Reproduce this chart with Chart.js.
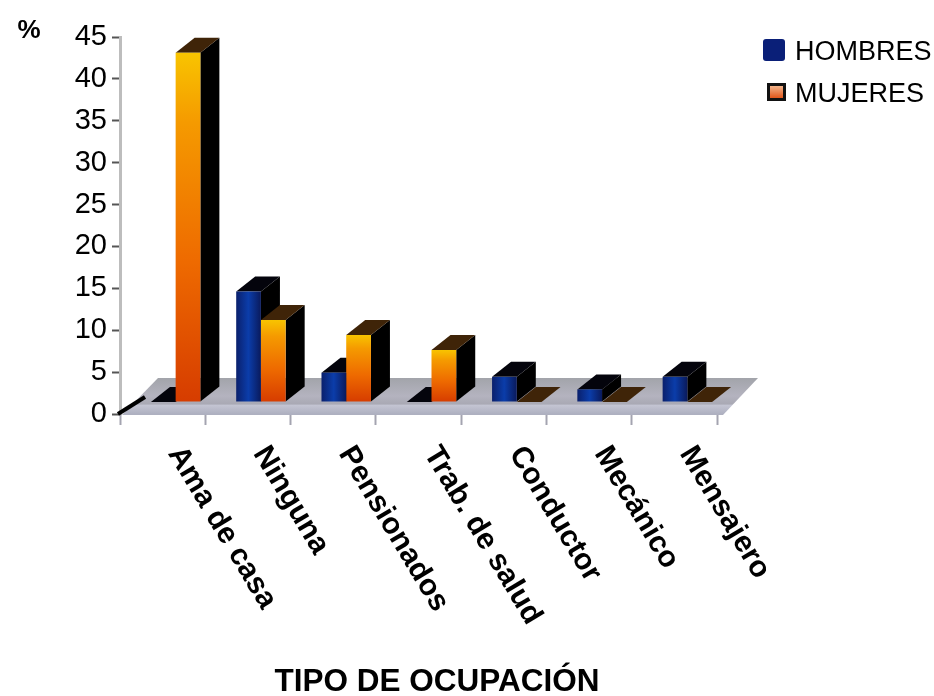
<!DOCTYPE html>
<html>
<head>
<meta charset="utf-8">
<title>Tipo de ocupación</title>
<script src="https://cdn.jsdelivr.net/npm/chart.js@4"></script>
<style>
  html, body { margin: 0; padding: 0; background: #fff; }
  #wrap { position: relative; width: 934px; height: 696px; overflow: hidden; }
  #legend { position: absolute; left: 763px; top: 38px; font: 27px "Liberation Sans", Arial, sans-serif; color: #000; }
  .legend-row { position: relative; height: 42px; line-height: 26px; padding-left: 32px; white-space: nowrap; }
  .swatch { position: absolute; box-sizing: border-box; }
</style>
</head>
<body>
<div id="wrap">
  <canvas id="chart" width="934" height="696"></canvas>
  <div id="legend"></div>
</div>
<script>
// ===== Data =====
const categories = ['Ama de casa', 'Ninguna', 'Pensionados', 'Trab. de salud', 'Conductor', 'Mecánico', 'Mensajero'];
const hombres = [0, 13.2, 3.5, 0, 3, 1.5, 3];
const mujeres = [41.7, 9.8, 8, 6.2, 0, 0, 0];
const yTicks = [0, 5, 10, 15, 20, 25, 30, 35, 40, 45];

// depth of the fake 3D extrusion and shift of the bars onto the floor
const DEPTH_X = 19;
const DEPTH_Y = -15;
const SHIFT_X = 13;
const SHIFT_Y = -12;

function mujeresFill(ctx) {
  const ys = ctx.chart.scales.y;
  const top = ctx.parsed ? ys.getPixelForValue(ctx.parsed.y) : NaN;
  const bottom = ys.getPixelForValue(0);
  if (!Number.isFinite(top) || !Number.isFinite(bottom)) return '#ee6a00';
  const g = ctx.chart.ctx.createLinearGradient(0, top, 0, Math.max(bottom, top + 1));
  g.addColorStop(0, '#f8c400');
  g.addColorStop(0.2, '#f59a00');
  g.addColorStop(0.6, '#ee6a00');
  g.addColorStop(1, '#d63c00');
  return g;
}

function hombresFill(ctx) {
  const center = ctx.chart.scales.x.getPixelForTick(ctx.dataIndex);
  if (!Number.isFinite(center)) return '#0a2a8a';
  // blue bars sit in the left half of each group
  const g = ctx.chart.ctx.createLinearGradient(center - 25, 0, center, 0);
  g.addColorStop(0, '#0a1f6b');
  g.addColorStop(0.5, '#0b3daa');
  g.addColorStop(1, '#0a1a5c');
  return g;
}

// sides and tops of one dataset's bars
function drawDepth(c, meta, topColor) {
  meta.data.forEach(bar => {
    const left = bar.x - bar.width / 2;
    const right = bar.x + bar.width / 2;
    c.fillStyle = '#000';
    c.beginPath();
    c.moveTo(right, bar.y);
    c.lineTo(right + DEPTH_X, bar.y + DEPTH_Y);
    c.lineTo(right + DEPTH_X, bar.base + DEPTH_Y);
    c.lineTo(right, bar.base);
    c.closePath();
    c.fill();
    c.fillStyle = topColor;
    c.beginPath();
    c.moveTo(left, bar.y);
    c.lineTo(left + DEPTH_X, bar.y + DEPTH_Y);
    c.lineTo(right + DEPTH_X, bar.y + DEPTH_Y);
    c.lineTo(right, bar.y);
    c.closePath();
    c.fill();
  });
}

// ===== Floor, bar sides and tops =====
const bars3d = {
  id: 'bars3d',
  beforeDatasetsDraw(chart) {
    const c = chart.ctx;
    const y0 = chart.scales.y.getPixelForValue(0);
    const floor = c.createLinearGradient(0, y0 - 36, 0, y0);
    floor.addColorStop(0, '#a2a4aa');
    floor.addColorStop(0.5, '#b4b3bf');
    floor.addColorStop(0.72, '#a9a9b4');
    floor.addColorStop(0.76, '#c3c4d2');
    floor.addColorStop(1, '#aeb0c0');
    c.save();
    c.fillStyle = floor;
    c.beginPath();
    c.moveTo(122, y0 + 1);
    c.lineTo(723, y0 + 1);
    c.lineTo(758, y0 - 36);
    c.lineTo(158, y0 - 36);
    c.closePath();
    c.fill();
    // little axis arrow at the origin
    c.strokeStyle = '#000';
    c.lineWidth = 4;
    c.beginPath();
    c.moveTo(118, y0);
    c.lineTo(145, y0 - 17);
    c.stroke();
    c.restore();
    // everything from here on sits on the floor, up and to the right of the axes
    c.save();
    c.translate(SHIFT_X, SHIFT_Y);
    // blue first so the orange faces end up in front of it
    drawDepth(c, chart.getDatasetMeta(0), '#04040c');
    drawDepth(c, chart.getDatasetMeta(1), '#3f2408');
  },
  afterDatasetsDraw(chart) {
    chart.ctx.restore();
  }
};

// ===== Slanted category names and the axis captions =====
const axisText = {
  id: 'axisText',
  afterDraw(chart) {
    const c = chart.ctx;
    const xs = chart.scales.x;
    c.save();
    c.fillStyle = '#000';
    c.textAlign = 'left';
    c.textBaseline = 'middle';
    c.font = 'bold 30px "Liberation Sans", Arial, sans-serif';
    categories.forEach((name, i) => {
      c.save();
      c.translate(xs.getPixelForTick(i) + 12, 449);
      c.rotate(59 * Math.PI / 180);
      c.fillText(name, 0, 0);
      c.restore();
    });
    c.textAlign = 'center';
    c.font = 'bold 31.5px "Liberation Sans", Arial, sans-serif';
    c.fillText('TIPO DE OCUPACIÓN', 437, 682);
    c.font = 'bold 26px "Liberation Sans", Arial, sans-serif';
    c.fillText('%', 29, 31);
    c.restore();
  }
};

new Chart(document.getElementById('chart'), {
  type: 'bar',
  data: {
    labels: categories,
    datasets: [
      { label: 'HOMBRES', data: hombres, clip: false, backgroundColor: hombresFill },
      { label: 'MUJERES', data: mujeres, clip: false, backgroundColor: mujeresFill }
    ]
  },
  options: {
    responsive: false,
    animation: false,
    layout: { padding: { top: 37, right: 217, left: 0, bottom: 0 } },
    datasets: { bar: { barPercentage: 1, categoryPercentage: 0.58 } },
    plugins: { legend: { display: false }, tooltip: { enabled: false } },
    scales: {
      x: {
        afterFit: s => { s.height = 282; },
        ticks: { display: false },
        border: { display: false },
        grid: { offset: true, drawOnChartArea: false, tickLength: 11, tickColor: '#a4a4b0', tickWidth: 2 }
      },
      y: {
        min: 0,
        max: 45,
        afterFit: s => { s.width = 120; },
        afterBuildTicks: s => { s.ticks = yTicks.map(v => ({ value: v })); },
        border: { color: '#bdbdbd', width: 3 },
        grid: { drawOnChartArea: false, tickLength: 8, tickColor: '#555', tickWidth: 2 },
        ticks: { color: '#000', padding: 5, font: { family: '"Liberation Sans", Arial, sans-serif', size: 29 } }
      }
    }
  },
  plugins: [bars3d, axisText]
});

// ===== Legend =====
const legendEntries = [
  { name: 'HOMBRES', swatch: 'left:0;top:1px;width:22px;height:22px;border-radius:3px;background:#0a1f78;' },
  { name: 'MUJERES', swatch: 'left:4px;top:3px;width:19px;height:18px;border:3px solid #111;background:linear-gradient(#f2b48a,#e2561a);' }
];
document.getElementById('legend').innerHTML = legendEntries.map(e => `
  <div class="legend-row"><span class="swatch" style="${e.swatch}"></span><span>${e.name}</span></div>
`).join('');
</script>
</body>
</html>
